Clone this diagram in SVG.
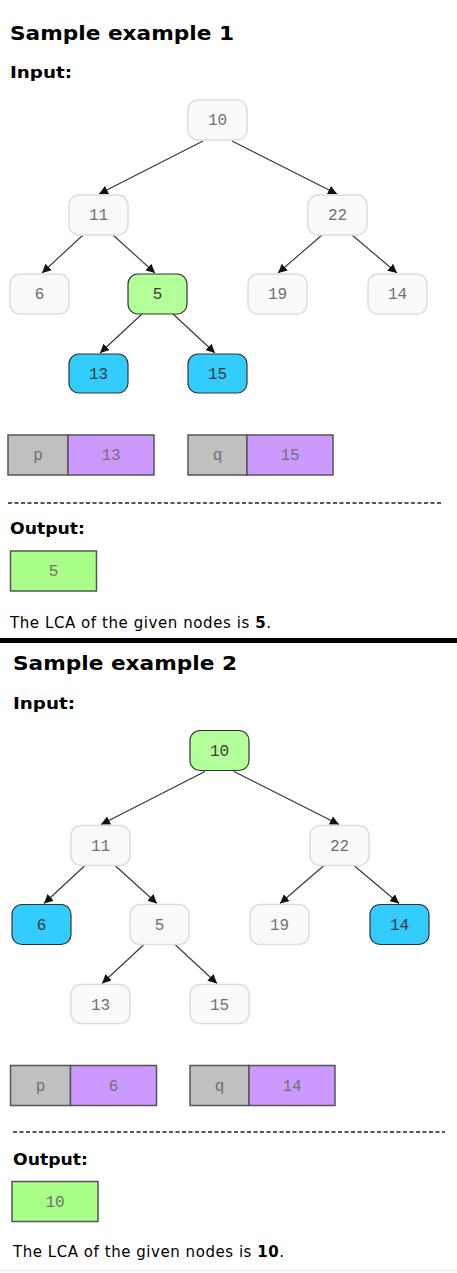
<svg xmlns="http://www.w3.org/2000/svg" width="457" height="1273" viewBox="0 0 457 1273">
<defs>
<marker id="ah" viewBox="0 0 10 10" refX="10" refY="5" markerWidth="9" markerHeight="9" markerUnits="userSpaceOnUse" orient="auto">
<path d="M0,0 L10,5 L0,10 z" fill="#111"/>
</marker>
</defs>
<style>
.title{font-family:"DejaVu Sans",Verdana,sans-serif;font-weight:bold;font-size:20px;fill:#000}
.lbl{font-family:"DejaVu Sans",Verdana,sans-serif;font-weight:bold;font-size:16px;fill:#000}
.body{font-family:"DejaVu Sans",Verdana,sans-serif;font-size:15px;fill:#000}
.nt{font-family:"Liberation Mono","Courier New",monospace;font-size:16px;fill:#707070;text-anchor:middle}
.ntd{font-family:"Liberation Mono","Courier New",monospace;font-size:16px;fill:#3a3a3a;text-anchor:middle}
.n{fill:#fafafa;stroke:#dddddd;stroke-width:1.5}
.g{fill:#b3ff99;stroke:#333;stroke-width:1.2}
.b{fill:#33ccff;stroke:#333;stroke-width:1.2}
.cg{fill:#c0c0c0;stroke:#555;stroke-width:1.5}
.cp{fill:#cc99ff;stroke:#555;stroke-width:1.5}
.og{fill:#aaff88;stroke:#555;stroke-width:1.5}
.e{stroke:#333;stroke-width:1.1;fill:none;marker-end:url(#ah)}
.dash{stroke:#222;stroke-width:1.3;stroke-dasharray:4 2.5}
</style>
<rect x="0" y="0" width="457" height="1273" fill="#fff"/>

<!-- Example 1 -->
<g id="ex1">
<text class="title" x="10" y="40" textLength="224" lengthAdjust="spacingAndGlyphs">Sample example 1</text>
<text class="lbl" x="10" y="78" textLength="62" lengthAdjust="spacingAndGlyphs">Input:</text>
<g id="ex1-edges">
<line class="e" x1="203" y1="141" x2="99" y2="194"/>
<line class="e" x1="232" y1="141" x2="337" y2="194"/>
<line class="e" x1="83" y1="235" x2="42" y2="273"/>
<line class="e" x1="113" y1="235" x2="155" y2="273"/>
<line class="e" x1="322" y1="235" x2="278" y2="273"/>
<line class="e" x1="352" y1="235" x2="397" y2="273"/>
<line class="e" x1="142" y1="314" x2="100" y2="353"/>
<line class="e" x1="173" y1="314" x2="215" y2="353"/>
</g>
<g id="ex1-n10"><rect class="n" x="188" y="100" width="59" height="40" rx="10"/><text class="nt" x="217.5" y="125">10</text></g>
<g id="ex1-n11"><rect class="n" x="69" y="195" width="59" height="40" rx="10"/><text class="nt" x="98.5" y="220">11</text></g>
<g id="ex1-n22"><rect class="n" x="308" y="195" width="59" height="40" rx="10"/><text class="nt" x="337.5" y="220">22</text></g>
<g id="ex1-n6"><rect class="n" x="10" y="274" width="59" height="40" rx="10"/><text class="nt" x="39.5" y="299">6</text></g>
<g id="ex1-n5"><rect class="g" x="128" y="274" width="59" height="40" rx="10"/><text class="ntd" x="157.5" y="299">5</text></g>
<g id="ex1-n19"><rect class="n" x="248" y="274" width="59" height="40" rx="10"/><text class="nt" x="277.5" y="299">19</text></g>
<g id="ex1-n14"><rect class="n" x="368" y="274" width="59" height="40" rx="10"/><text class="nt" x="397.5" y="299">14</text></g>
<g id="ex1-n13"><rect class="b" x="69" y="354" width="59" height="39" rx="10"/><text class="ntd" x="98.5" y="379">13</text></g>
<g id="ex1-n15"><rect class="b" x="188" y="354" width="59" height="39" rx="10"/><text class="ntd" x="217.5" y="379">15</text></g>
<g id="ex1-p"><rect class="cg" x="8" y="435" width="60" height="40"/><rect class="cp" x="68" y="435" width="86" height="40"/><text class="nt" x="38" y="460">p</text><text class="nt" x="111" y="460">13</text></g>
<g id="ex1-q"><rect class="cg" x="188" y="435" width="59" height="40"/><rect class="cp" x="247" y="435" width="86" height="40"/><text class="nt" x="217.5" y="460">q</text><text class="nt" x="290" y="460">15</text></g>
<line class="dash" x1="8" y1="503" x2="441" y2="503"/>
<text class="lbl" x="10" y="534" textLength="75" lengthAdjust="spacingAndGlyphs">Output:</text>
<g id="ex1-out"><rect class="og" x="10.5" y="551" width="86" height="40"/><text class="nt" x="53.5" y="576">5</text></g>
<text class="body" x="10" y="628" textLength="261" lengthAdjust="spacing">The LCA of the given nodes is <tspan font-weight="bold">5</tspan>.</text>
</g>

<rect x="0" y="638" width="457" height="5" fill="#000"/>

<!-- Example 2 -->
<text class="title" x="13" y="670" textLength="224" lengthAdjust="spacingAndGlyphs">Sample example 2</text>
<text class="lbl" x="13" y="709" textLength="62" lengthAdjust="spacingAndGlyphs">Input:</text>
<g id="ex2" transform="translate(2,630.5)">
<g id="ex2-edges">
<line class="e" x1="203" y1="141" x2="99" y2="194"/>
<line class="e" x1="232" y1="141" x2="337" y2="194"/>
<line class="e" x1="83" y1="235" x2="42" y2="273"/>
<line class="e" x1="113" y1="235" x2="155" y2="273"/>
<line class="e" x1="322" y1="235" x2="278" y2="273"/>
<line class="e" x1="352" y1="235" x2="397" y2="273"/>
<line class="e" x1="142" y1="314" x2="100" y2="353"/>
<line class="e" x1="173" y1="314" x2="215" y2="353"/>
</g>
<g id="ex2-n10"><rect class="g" x="188" y="100" width="59" height="40" rx="10"/><text class="ntd" x="217.5" y="125">10</text></g>
<g id="ex2-n11"><rect class="n" x="69" y="195" width="59" height="40" rx="10"/><text class="nt" x="98.5" y="220">11</text></g>
<g id="ex2-n22"><rect class="n" x="308" y="195" width="59" height="40" rx="10"/><text class="nt" x="337.5" y="220">22</text></g>
<g id="ex2-n6"><rect class="b" x="10" y="274" width="59" height="40" rx="10"/><text class="ntd" x="39.5" y="299">6</text></g>
<g id="ex2-n5"><rect class="n" x="128" y="274" width="59" height="40" rx="10"/><text class="nt" x="157.5" y="299">5</text></g>
<g id="ex2-n19"><rect class="n" x="248" y="274" width="59" height="40" rx="10"/><text class="nt" x="277.5" y="299">19</text></g>
<g id="ex2-n14"><rect class="b" x="368" y="274" width="59" height="40" rx="10"/><text class="ntd" x="397.5" y="299">14</text></g>
<g id="ex2-n13"><rect class="n" x="69" y="354" width="59" height="39" rx="10"/><text class="nt" x="98.5" y="379">13</text></g>
<g id="ex2-n15"><rect class="n" x="188" y="354" width="59" height="39" rx="10"/><text class="nt" x="217.5" y="379">15</text></g>
<g id="ex2-p"><rect class="cg" x="8.5" y="435" width="60" height="40"/><rect class="cp" x="68.5" y="435" width="86" height="40"/><text class="nt" x="38.5" y="460">p</text><text class="nt" x="111.5" y="460">6</text></g>
<g id="ex2-q"><rect class="cg" x="188" y="435" width="59" height="40"/><rect class="cp" x="247" y="435" width="86" height="40"/><text class="nt" x="217.5" y="460">q</text><text class="nt" x="290" y="460">14</text></g>
<line class="dash" x1="11" y1="501.5" x2="443" y2="501.5"/>
<text class="lbl" x="11" y="534" textLength="75" lengthAdjust="spacingAndGlyphs">Output:</text>
<g id="ex2-out"><rect class="og" x="10" y="551" width="86" height="40"/><text class="nt" x="53" y="576">10</text></g>
<text class="body" x="11" y="626" textLength="271" lengthAdjust="spacing">The LCA of the given nodes is <tspan font-weight="bold">10</tspan>.</text>
</g>
<line x1="0" y1="1270.5" x2="457" y2="1270.5" stroke="#eeeeee" stroke-width="1.5"/>
</svg>
